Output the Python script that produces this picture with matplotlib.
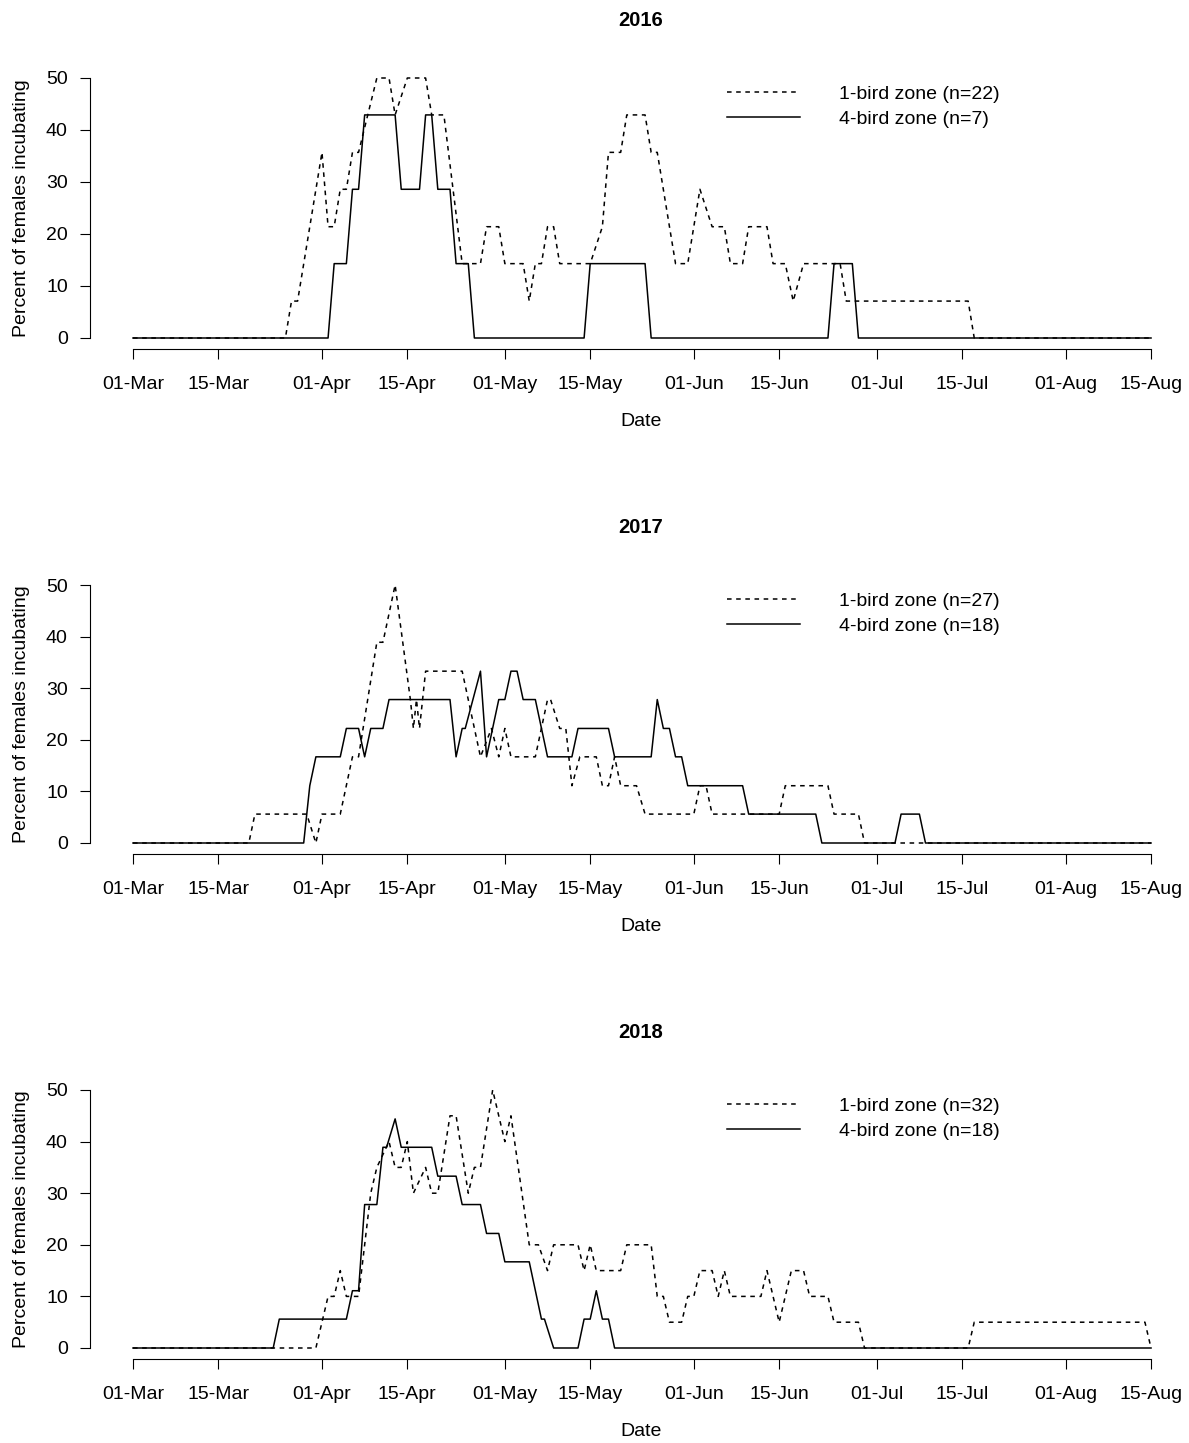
import matplotlib
matplotlib.use("Agg")
import matplotlib.pyplot as plt

plt.rcParams['font.family'] = ['Liberation Sans', 'DejaVu Sans']
plt.rcParams['font.size'] = 14

# x axis: days since 01-Mar
tick_days = [0, 14, 31, 45, 61, 75, 92, 106, 122, 136, 153, 167]
tick_labels = ['01-Mar', '15-Mar', '01-Apr', '15-Apr', '01-May', '15-May',
               '01-Jun', '15-Jun', '01-Jul', '15-Jul', '01-Aug', '15-Aug']
years = ['2016', '2017', '2018']
labels_one = ['1-bird zone (n=22)', '1-bird zone (n=27)', '1-bird zone (n=32)']
labels_four = ['4-bird zone (n=7)', '4-bird zone (n=18)', '4-bird zone (n=18)']

# 2016
day16_one = [0, 25, 26, 27, 31, 32, 33, 34, 35, 36, 37, 40, 42, 43, 45, 48, 49, 51, 54, 57, 58, 60, 61,
             64, 65, 66, 67, 68, 69, 70, 75, 77, 78, 80, 81, 84, 85, 86, 89, 91, 93, 95, 97, 98, 100,
             101, 104, 105, 107, 108.3, 110, 116, 117, 137, 138, 167]
pct16_one = [0, 0, 7.1, 7.1, 35.7, 21.4, 21.4, 28.6, 28.6, 35.7, 35.7, 50, 50, 42.9, 50, 50, 42.9, 42.9,
             14.3, 14.3, 21.4, 21.4, 14.3, 14.3, 7.1, 14.3, 14.3, 21.4, 21.4, 14.3, 14.3, 21.4, 35.7,
             35.7, 42.9, 42.9, 35.7, 35.7, 14.3, 14.3, 28.6, 21.4, 21.4, 14.3, 14.3, 21.4, 21.4, 14.3,
             14.3, 7.1, 14.3, 14.3, 7.1, 7.1, 0, 0]
day16_four = [0, 32, 33, 35, 36, 37, 38, 43, 44, 47, 48, 49, 50, 52, 53, 55, 56, 74, 75, 84, 85,
              114, 115, 118, 119, 167]
pct16_four = [0, 0, 14.3, 14.3, 28.6, 28.6, 42.9, 42.9, 28.6, 28.6, 42.9, 42.9, 28.6, 28.6, 14.3,
              14.3, 0, 0, 14.3, 14.3, 0, 0, 14.3, 14.3, 0, 0]

# 2017
day17_one = [0, 19, 20, 28.5, 30, 31, 34, 36, 37, 40, 41, 43, 45.5, 46, 46.5, 47, 48, 54, 57, 58.8,
             60, 61, 62, 66, 68, 68.5, 70, 71, 72, 73.3, 76, 77, 78, 79, 80, 82.6, 84, 92, 93, 94,
             95, 106, 107, 114, 115, 119, 120, 167]
pct17_one = [0, 0, 5.6, 5.6, 0, 5.6, 5.6, 16.7, 16.7, 38.9, 38.9, 50, 27.8, 22.2, 27.8, 22.2, 33.3,
             33.3, 16.7, 22.2, 16.7, 22.2, 16.7, 16.7, 27.8, 27.8, 22.2, 22.2, 11.1, 16.7, 16.7, 11.1,
             11.1, 16.7, 11.1, 11.1, 5.6, 5.6, 11.1, 11.1, 5.6, 5.6, 11.1, 11.1, 5.6, 5.6, 0, 0]
day17_four = [0, 28, 29, 30, 34, 35, 37, 38, 39, 41, 42, 52, 53, 54, 54.5, 57, 58, 60, 61, 62, 63,
              64, 66, 68, 72, 73, 78, 79, 85, 86, 87, 88, 89, 90, 91, 100, 101, 112, 113, 125, 126,
              129, 130, 167]
pct17_four = [0, 0, 11.1, 16.7, 16.7, 22.2, 22.2, 16.7, 22.2, 22.2, 27.8, 27.8, 16.7, 22.2, 22.2,
              33.3, 16.7, 27.8, 27.8, 33.3, 33.3, 27.8, 27.8, 16.7, 16.7, 22.2, 22.2, 16.7, 16.7,
              27.8, 22.2, 22.2, 16.7, 16.7, 11.1, 11.1, 5.6, 5.6, 0, 0, 5.6, 5.6, 0, 0]

# 2018
day18_one = [0, 30, 32, 33, 34, 35, 37, 38, 39, 40, 42, 43, 44, 45, 46, 48, 49, 50, 52, 53, 55, 56,
             57, 59, 61, 62, 65, 66.5, 68, 69, 73, 74, 75, 76, 80, 81, 85, 86, 87, 88, 90, 91, 92,
             93, 95, 96, 97, 98, 103, 104, 106, 108, 110, 111, 114, 115, 119, 120, 137, 138, 166, 167]
pct18_one = [0, 0, 10, 10, 15, 10, 10, 20, 30, 35, 40, 35, 35, 40, 30, 35, 30, 30, 45, 45, 30, 35,
             35, 50, 40, 45, 20, 20, 15, 20, 20, 15, 20, 15, 15, 20, 20, 10, 10, 5, 5, 10, 10, 15,
             15, 10, 15, 10, 10, 15, 5, 15, 15, 10, 10, 5, 5, 0, 0, 5, 5, 0]
day18_four = [0, 23, 24, 35, 36, 37, 38, 40, 41, 41.6, 43, 44, 49, 50, 53, 54, 57, 58, 60, 61, 65,
              67, 67.5, 69, 73, 74, 75, 76, 77, 78, 79, 167]
pct18_four = [0, 0, 5.6, 5.6, 11.1, 11.1, 27.8, 27.8, 38.9, 38.9, 44.4, 38.9, 38.9, 33.3, 33.3,
              27.8, 27.8, 22.2, 22.2, 16.7, 16.7, 5.6, 5.6, 0, 0, 5.6, 5.6, 11.1, 5.6, 5.6, 0, 0]

series = [(day16_one, pct16_one, day16_four, pct16_four),
          (day17_one, pct17_one, day17_four, pct17_four),
          (day18_one, pct18_one, day18_four, pct18_four)]

W, H = 1189, 1443
fig = plt.figure(figsize=(W / 100, H / 100), dpi=100)

# (axis line px, zero px, px per unit)
panels = [(349, 338, 5.2), (854, 843, 5.16), (1359, 1348, 5.16)]
left_px, width_px, px_per_day = 90, 1102, 6.096

for i, (bot, zero, ppu) in enumerate(panels):
    top = zero - 52 * ppu
    h = bot - top
    ax = fig.add_axes([left_px / W, 1 - bot / H, width_px / W, h / H])
    d1, p1, d4, p4 = series[i]
    l1, = ax.plot(d1, p1, color='black', lw=1.1, linestyle=(0, (3, 3)))
    l4, = ax.plot(d4, p4, color='black', lw=1.1)
    x0 = -(133 - left_px) / px_per_day
    ax.set_xlim(x0, x0 + width_px / px_per_day)
    ax.set_ylim(-(bot - zero) / ppu, 52)
    for s in ['top', 'right']:
        ax.spines[s].set_visible(False)
    ax.spines['left'].set_bounds(0, 50)
    ax.spines['bottom'].set_bounds(0, 167)
    ax.spines['left'].set_linewidth(0.8)
    ax.spines['bottom'].set_linewidth(0.8)
    ax.set_xticks(tick_days)
    ax.set_xticklabels(tick_labels)
    ax.set_yticks([0, 10, 20, 30, 40, 50])
    ax.tick_params(axis='both', direction='out', length=7.5, width=0.8, labelsize=14)
    ax.tick_params(axis='x', pad=12)
    ax.tick_params(axis='y', pad=8.5)
    ax.set_xlabel('Date', fontsize=14, va='center')
    ax.xaxis.set_label_coords(0.5, -73 / h)
    ax.set_ylabel('Percent of females incubating', fontsize=14, va='center')
    ax.yaxis.set_label_coords(-(left_px - 22) / width_px, (zero - 25 * ppu - top) / h * -1 + 1)
    ax.text(0.5, 1 + 47 / h, years[i], transform=ax.transAxes, ha='center', va='center',
            fontsize=14.5, fontweight='bold')
    ax.legend([l1, l4], [labels_one[i], labels_four[i]], loc='upper left',
              bbox_to_anchor=((726.7 - left_px) / width_px, 1 - (85.3 - 67.6) / h),
              frameon=False, borderpad=0, borderaxespad=0, handlelength=3.78,
              handletextpad=1.97, labelspacing=0.38, fontsize=14)

fig.savefig('out.png', dpi=100)
